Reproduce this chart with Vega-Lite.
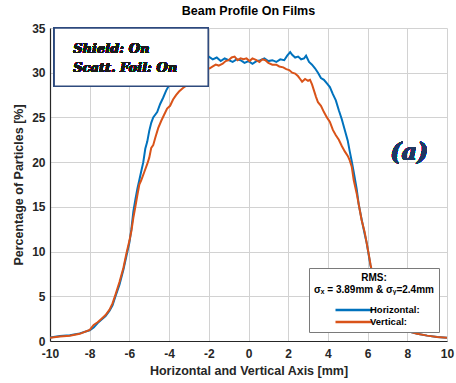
{
  "$schema": "https://vega.github.io/schema/vega-lite/v6.json",
  "autosize": "none",
  "width": 397,
  "height": 313,
  "padding": {"left": 50, "top": 28, "right": 9, "bottom": 42},
  "background": "white",
  "title": {"text": "Beam Profile On Films", "font": "Liberation Sans", "fontSize": 12.5, "fontWeight": "bold", "color": "#000000", "offset": 5, "anchor": "middle"},
  "config": {
    "view": {"stroke": null},
    "axis": {
      "labelFont": "Liberation Sans", "labelFontSize": 12, "labelFontWeight": "bold", "labelColor": "#262626",
      "titleFont": "Liberation Sans", "titleFontSize": 12.5, "titleFontWeight": "bold", "titleColor": "#262626",
      "gridColor": "#d2d2d2", "gridOpacity": 1, "gridWidth": 1,
      "domainColor": "#262626", "domainWidth": 1.2, "tickColor": "#262626", "tickSize": 4, "ticks": false,
      "labelOverlap": false, "labelFlush": false
    }
  },
  "data": {"values": [
    {"x": -10, "y": 0.4, "series": "Horizontal:"},
    {"x": -9.5, "y": 0.55, "series": "Horizontal:"},
    {"x": -9, "y": 0.65, "series": "Horizontal:"},
    {"x": -8.5, "y": 0.85, "series": "Horizontal:"},
    {"x": -8, "y": 1.2, "series": "Horizontal:"},
    {"x": -7.8, "y": 1.5, "series": "Horizontal:"},
    {"x": -7.6, "y": 2.0, "series": "Horizontal:"},
    {"x": -7.4, "y": 2.4, "series": "Horizontal:"},
    {"x": -7.2, "y": 2.8, "series": "Horizontal:"},
    {"x": -7.0, "y": 3.4, "series": "Horizontal:"},
    {"x": -6.85, "y": 4.0, "series": "Horizontal:"},
    {"x": -6.7, "y": 5.0, "series": "Horizontal:"},
    {"x": -6.5, "y": 6.3, "series": "Horizontal:"},
    {"x": -6.3, "y": 8.0, "series": "Horizontal:"},
    {"x": -6.15, "y": 9.5, "series": "Horizontal:"},
    {"x": -6.0, "y": 11.0, "series": "Horizontal:"},
    {"x": -5.9, "y": 12.5, "series": "Horizontal:"},
    {"x": -5.8, "y": 14.5, "series": "Horizontal:"},
    {"x": -5.7, "y": 15.8, "series": "Horizontal:"},
    {"x": -5.6, "y": 17.0, "series": "Horizontal:"},
    {"x": -5.5, "y": 18.0, "series": "Horizontal:"},
    {"x": -5.4, "y": 19.0, "series": "Horizontal:"},
    {"x": -5.3, "y": 20.0, "series": "Horizontal:"},
    {"x": -5.2, "y": 21.5, "series": "Horizontal:"},
    {"x": -5.1, "y": 22.3, "series": "Horizontal:"},
    {"x": -5.0, "y": 23.5, "series": "Horizontal:"},
    {"x": -4.9, "y": 24.4, "series": "Horizontal:"},
    {"x": -4.8, "y": 25.0, "series": "Horizontal:"},
    {"x": -4.6, "y": 25.6, "series": "Horizontal:"},
    {"x": -4.45, "y": 26.5, "series": "Horizontal:"},
    {"x": -4.3, "y": 27.2, "series": "Horizontal:"},
    {"x": -4.15, "y": 28.0, "series": "Horizontal:"},
    {"x": -4.0, "y": 28.6, "series": "Horizontal:"},
    {"x": -3.8, "y": 29.2, "series": "Horizontal:"},
    {"x": -3.5, "y": 29.8, "series": "Horizontal:"},
    {"x": -3.2, "y": 30.4, "series": "Horizontal:"},
    {"x": -2.9, "y": 30.9, "series": "Horizontal:"},
    {"x": -2.6, "y": 31.3, "series": "Horizontal:"},
    {"x": -2.3, "y": 31.5, "series": "Horizontal:"},
    {"x": -2.0, "y": 31.8, "series": "Horizontal:"},
    {"x": -1.8, "y": 31.5, "series": "Horizontal:"},
    {"x": -1.6, "y": 31.7, "series": "Horizontal:"},
    {"x": -1.4, "y": 31.3, "series": "Horizontal:"},
    {"x": -1.2, "y": 31.6, "series": "Horizontal:"},
    {"x": -1.0, "y": 31.4, "series": "Horizontal:"},
    {"x": -0.8, "y": 31.2, "series": "Horizontal:"},
    {"x": -0.6, "y": 31.5, "series": "Horizontal:"},
    {"x": -0.4, "y": 31.4, "series": "Horizontal:"},
    {"x": -0.2, "y": 31.1, "series": "Horizontal:"},
    {"x": 0.0, "y": 31.3, "series": "Horizontal:"},
    {"x": 0.2, "y": 31.0, "series": "Horizontal:"},
    {"x": 0.4, "y": 31.3, "series": "Horizontal:"},
    {"x": 0.6, "y": 31.4, "series": "Horizontal:"},
    {"x": 0.8, "y": 31.6, "series": "Horizontal:"},
    {"x": 1.0, "y": 31.3, "series": "Horizontal:"},
    {"x": 1.2, "y": 31.4, "series": "Horizontal:"},
    {"x": 1.4, "y": 31.2, "series": "Horizontal:"},
    {"x": 1.6, "y": 31.5, "series": "Horizontal:"},
    {"x": 1.8, "y": 31.4, "series": "Horizontal:"},
    {"x": 1.95, "y": 31.9, "series": "Horizontal:"},
    {"x": 2.1, "y": 32.3, "series": "Horizontal:"},
    {"x": 2.2, "y": 32.0, "series": "Horizontal:"},
    {"x": 2.35, "y": 31.7, "series": "Horizontal:"},
    {"x": 2.5, "y": 31.8, "series": "Horizontal:"},
    {"x": 2.65, "y": 31.5, "series": "Horizontal:"},
    {"x": 2.8, "y": 31.6, "series": "Horizontal:"},
    {"x": 2.9, "y": 31.9, "series": "Horizontal:"},
    {"x": 3.05, "y": 31.2, "series": "Horizontal:"},
    {"x": 3.2, "y": 30.9, "series": "Horizontal:"},
    {"x": 3.35, "y": 30.5, "series": "Horizontal:"},
    {"x": 3.5, "y": 30.0, "series": "Horizontal:"},
    {"x": 3.65, "y": 29.4, "series": "Horizontal:"},
    {"x": 3.8, "y": 29.2, "series": "Horizontal:"},
    {"x": 3.95, "y": 28.8, "series": "Horizontal:"},
    {"x": 4.1, "y": 28.4, "series": "Horizontal:"},
    {"x": 4.25, "y": 27.6, "series": "Horizontal:"},
    {"x": 4.4, "y": 26.9, "series": "Horizontal:"},
    {"x": 4.55, "y": 25.8, "series": "Horizontal:"},
    {"x": 4.7, "y": 24.8, "series": "Horizontal:"},
    {"x": 4.85, "y": 23.6, "series": "Horizontal:"},
    {"x": 5.0, "y": 22.4, "series": "Horizontal:"},
    {"x": 5.1, "y": 21.2, "series": "Horizontal:"},
    {"x": 5.2, "y": 20.1, "series": "Horizontal:"},
    {"x": 5.3, "y": 18.9, "series": "Horizontal:"},
    {"x": 5.45, "y": 17.0, "series": "Horizontal:"},
    {"x": 5.55, "y": 15.3, "series": "Horizontal:"},
    {"x": 5.7, "y": 13.6, "series": "Horizontal:"},
    {"x": 5.85, "y": 12.0, "series": "Horizontal:"},
    {"x": 5.95, "y": 11.0, "series": "Horizontal:"},
    {"x": 6.05, "y": 9.7, "series": "Horizontal:"},
    {"x": 6.15, "y": 8.4, "series": "Horizontal:"},
    {"x": 6.3, "y": 7.0, "series": "Horizontal:"},
    {"x": 6.5, "y": 5.2, "series": "Horizontal:"},
    {"x": 6.8, "y": 3.6, "series": "Horizontal:"},
    {"x": 7.2, "y": 2.4, "series": "Horizontal:"},
    {"x": 7.6, "y": 1.6, "series": "Horizontal:"},
    {"x": 8.0, "y": 1.1, "series": "Horizontal:"},
    {"x": 8.5, "y": 0.8, "series": "Horizontal:"},
    {"x": 9.0, "y": 0.6, "series": "Horizontal:"},
    {"x": 9.5, "y": 0.45, "series": "Horizontal:"},
    {"x": 10.0, "y": 0.35, "series": "Horizontal:"},
    {"x": -10, "y": 0.35, "series": "Vertical:"},
    {"x": -9.5, "y": 0.5, "series": "Vertical:"},
    {"x": -9, "y": 0.6, "series": "Vertical:"},
    {"x": -8.5, "y": 0.8, "series": "Vertical:"},
    {"x": -8, "y": 1.25, "series": "Vertical:"},
    {"x": -7.8, "y": 1.8, "series": "Vertical:"},
    {"x": -7.6, "y": 2.1, "series": "Vertical:"},
    {"x": -7.4, "y": 2.5, "series": "Vertical:"},
    {"x": -7.2, "y": 2.9, "series": "Vertical:"},
    {"x": -7.0, "y": 3.5, "series": "Vertical:"},
    {"x": -6.85, "y": 4.2, "series": "Vertical:"},
    {"x": -6.7, "y": 5.2, "series": "Vertical:"},
    {"x": -6.5, "y": 6.6, "series": "Vertical:"},
    {"x": -6.3, "y": 8.2, "series": "Vertical:"},
    {"x": -6.15, "y": 9.8, "series": "Vertical:"},
    {"x": -6.0, "y": 11.2, "series": "Vertical:"},
    {"x": -5.9, "y": 12.3, "series": "Vertical:"},
    {"x": -5.8, "y": 13.8, "series": "Vertical:"},
    {"x": -5.7, "y": 15.0, "series": "Vertical:"},
    {"x": -5.6, "y": 16.3, "series": "Vertical:"},
    {"x": -5.5, "y": 17.5, "series": "Vertical:"},
    {"x": -5.4, "y": 18.0, "series": "Vertical:"},
    {"x": -5.25, "y": 18.9, "series": "Vertical:"},
    {"x": -5.1, "y": 19.8, "series": "Vertical:"},
    {"x": -5.0, "y": 20.5, "series": "Vertical:"},
    {"x": -4.9, "y": 21.6, "series": "Vertical:"},
    {"x": -4.8, "y": 21.9, "series": "Vertical:"},
    {"x": -4.7, "y": 22.7, "series": "Vertical:"},
    {"x": -4.55, "y": 23.8, "series": "Vertical:"},
    {"x": -4.4, "y": 24.6, "series": "Vertical:"},
    {"x": -4.25, "y": 25.3, "series": "Vertical:"},
    {"x": -4.1, "y": 26.0, "series": "Vertical:"},
    {"x": -3.95, "y": 26.3, "series": "Vertical:"},
    {"x": -3.8, "y": 27.0, "series": "Vertical:"},
    {"x": -3.65, "y": 27.5, "series": "Vertical:"},
    {"x": -3.5, "y": 27.9, "series": "Vertical:"},
    {"x": -3.3, "y": 28.3, "series": "Vertical:"},
    {"x": -3.1, "y": 28.6, "series": "Vertical:"},
    {"x": -2.9, "y": 28.9, "series": "Vertical:"},
    {"x": -2.7, "y": 29.5, "series": "Vertical:"},
    {"x": -2.5, "y": 29.8, "series": "Vertical:"},
    {"x": -2.3, "y": 30.2, "series": "Vertical:"},
    {"x": -2.1, "y": 30.4, "series": "Vertical:"},
    {"x": -1.95, "y": 30.5, "series": "Vertical:"},
    {"x": -1.8, "y": 30.7, "series": "Vertical:"},
    {"x": -1.65, "y": 30.9, "series": "Vertical:"},
    {"x": -1.5, "y": 30.8, "series": "Vertical:"},
    {"x": -1.3, "y": 31.0, "series": "Vertical:"},
    {"x": -1.15, "y": 31.3, "series": "Vertical:"},
    {"x": -1.0, "y": 31.4, "series": "Vertical:"},
    {"x": -0.85, "y": 31.7, "series": "Vertical:"},
    {"x": -0.7, "y": 31.8, "series": "Vertical:"},
    {"x": -0.55, "y": 31.4, "series": "Vertical:"},
    {"x": -0.4, "y": 31.6, "series": "Vertical:"},
    {"x": -0.25, "y": 31.5, "series": "Vertical:"},
    {"x": -0.1, "y": 31.6, "series": "Vertical:"},
    {"x": 0.05, "y": 31.3, "series": "Vertical:"},
    {"x": 0.2, "y": 31.6, "series": "Vertical:"},
    {"x": 0.4, "y": 31.4, "series": "Vertical:"},
    {"x": 0.55, "y": 31.2, "series": "Vertical:"},
    {"x": 0.7, "y": 31.5, "series": "Vertical:"},
    {"x": 0.85, "y": 31.4, "series": "Vertical:"},
    {"x": 1.0, "y": 31.1, "series": "Vertical:"},
    {"x": 1.2, "y": 30.9, "series": "Vertical:"},
    {"x": 1.4, "y": 30.9, "series": "Vertical:"},
    {"x": 1.55, "y": 30.7, "series": "Vertical:"},
    {"x": 1.75, "y": 30.6, "series": "Vertical:"},
    {"x": 1.9, "y": 30.4, "series": "Vertical:"},
    {"x": 2.05, "y": 30.3, "series": "Vertical:"},
    {"x": 2.2, "y": 30.0, "series": "Vertical:"},
    {"x": 2.35, "y": 29.9, "series": "Vertical:"},
    {"x": 2.5, "y": 29.6, "series": "Vertical:"},
    {"x": 2.6, "y": 29.3, "series": "Vertical:"},
    {"x": 2.7, "y": 29.0, "series": "Vertical:"},
    {"x": 2.85, "y": 29.3, "series": "Vertical:"},
    {"x": 3.0, "y": 29.1, "series": "Vertical:"},
    {"x": 3.1, "y": 29.2, "series": "Vertical:"},
    {"x": 3.2, "y": 28.7, "series": "Vertical:"},
    {"x": 3.3, "y": 28.0, "series": "Vertical:"},
    {"x": 3.4, "y": 27.3, "series": "Vertical:"},
    {"x": 3.5, "y": 26.7, "series": "Vertical:"},
    {"x": 3.65, "y": 26.3, "series": "Vertical:"},
    {"x": 3.8, "y": 25.6, "series": "Vertical:"},
    {"x": 3.95, "y": 25.0, "series": "Vertical:"},
    {"x": 4.1, "y": 24.5, "series": "Vertical:"},
    {"x": 4.25, "y": 23.6, "series": "Vertical:"},
    {"x": 4.4, "y": 23.0, "series": "Vertical:"},
    {"x": 4.55, "y": 22.5, "series": "Vertical:"},
    {"x": 4.7, "y": 21.8, "series": "Vertical:"},
    {"x": 4.85, "y": 21.2, "series": "Vertical:"},
    {"x": 5.0, "y": 20.7, "series": "Vertical:"},
    {"x": 5.1, "y": 20.2, "series": "Vertical:"},
    {"x": 5.2, "y": 19.5, "series": "Vertical:"},
    {"x": 5.3, "y": 18.0, "series": "Vertical:"},
    {"x": 5.45, "y": 16.5, "series": "Vertical:"},
    {"x": 5.55, "y": 15.3, "series": "Vertical:"},
    {"x": 5.7, "y": 13.5, "series": "Vertical:"},
    {"x": 5.85, "y": 12.2, "series": "Vertical:"},
    {"x": 5.95, "y": 11.0, "series": "Vertical:"},
    {"x": 6.05, "y": 9.8, "series": "Vertical:"},
    {"x": 6.15, "y": 8.5, "series": "Vertical:"},
    {"x": 6.3, "y": 7.0, "series": "Vertical:"},
    {"x": 6.5, "y": 5.2, "series": "Vertical:"},
    {"x": 6.8, "y": 3.5, "series": "Vertical:"},
    {"x": 7.2, "y": 2.3, "series": "Vertical:"},
    {"x": 7.6, "y": 1.6, "series": "Vertical:"},
    {"x": 8.0, "y": 1.1, "series": "Vertical:"},
    {"x": 8.5, "y": 0.8, "series": "Vertical:"},
    {"x": 9.0, "y": 0.6, "series": "Vertical:"},
    {"x": 9.5, "y": 0.45, "series": "Vertical:"},
    {"x": 10.0, "y": 0.35, "series": "Vertical:"}
  ]},
  "layer": [
    {
      "mark": {"type": "line", "strokeWidth": 2, "clip": true},
      "encoding": {
        "x": {"field": "x", "type": "quantitative", "scale": {"domain": [-10, 10], "nice": false},
              "axis": {"title": "Horizontal and Vertical Axis [mm]", "values": [-10, -8, -6, -4, -2, 0, 2, 4, 6, 8, 10], "tickCount": 20, "format": "d", "labelExpr": "replace(datum.label, '\u2212', '-')", "labelPadding": 7, "titlePadding": 5, "grid": true, "labelOverlap": false, "labelFlush": false, "labelBound": false}},
        "y": {"field": "y", "type": "quantitative", "scale": {"domain": [0, 35], "nice": false},
              "axis": {"title": "Percentage of Particles [%]", "values": [0, 5, 10, 15, 20, 25, 30, 35], "tickCount": 20, "labelPadding": 5, "titlePadding": 6, "grid": true, "labelOverlap": false}},
        "color": {"field": "series", "type": "nominal",
                  "scale": {"domain": ["Horizontal:", "Vertical:"], "range": ["#0072BD", "#D95319"]},
                  "legend": {
                    "orient": "none", "legendX": 259, "legendY": 240,
                    "title": ["RMS:", "σₓ = 3.89mm & σᵧ=2.4mm"],
                    "titleFont": "Liberation Sans", "titleFontSize": 10, "titleFontWeight": "bold", "titleColor": "#000000",
                    "titleAlign": "center", "titleAnchor": "middle", "titleLineHeight": 11.5, "titlePadding": 9,
                    "labelFont": "Liberation Sans", "labelFontSize": 9.5, "labelFontWeight": "bold", "labelColor": "#000000",
                    "symbolType": "M-3.7,0H3.7", "symbolSize": 100, "symbolStrokeWidth": 2.5, "symbolOffset": 19.5, "labelOffset": 9.5,
                    "fillColor": "white", "strokeColor": "#7a7a7a", "padding": 5, "rowPadding": 0
                  }}
      }
    },
    {
      "mark": {"type": "rect", "fill": "white", "stroke": "#2E4A7D", "strokeWidth": 1.5},
      "encoding": {
        "x": {"datum": -9.79, "type": "quantitative"},
        "x2": {"datum": -2.03},
        "y": {"datum": 28.5, "type": "quantitative"},
        "y2": {"datum": 35}
      }
    },
    {
      "mark": {"type": "text", "align": "left", "baseline": "alphabetic", "font": "DejaVu Serif", "fontStyle": "italic", "fontWeight": "bold", "fontSize": 13, "color": "#1a1a1a", "lineHeight": 19},
      "encoding": {
        "x": {"datum": -8.83, "type": "quantitative"},
        "y": {"datum": 32.2, "type": "quantitative"},
        "text": {"value": ["Shield: On", "Scatt. Foil: On"]}
      }
    },
    {
      "mark": {"type": "text", "align": "center", "baseline": "alphabetic", "font": "DejaVu Serif", "fontStyle": "italic", "fontWeight": "bold", "fontSize": 24, "color": "#1F3864"},
      "encoding": {
        "x": {"datum": 8.1, "type": "quantitative"},
        "y": {"datum": 20.2, "type": "quantitative"},
        "text": {"value": "(a)"}
      }
    }
  ]
}
